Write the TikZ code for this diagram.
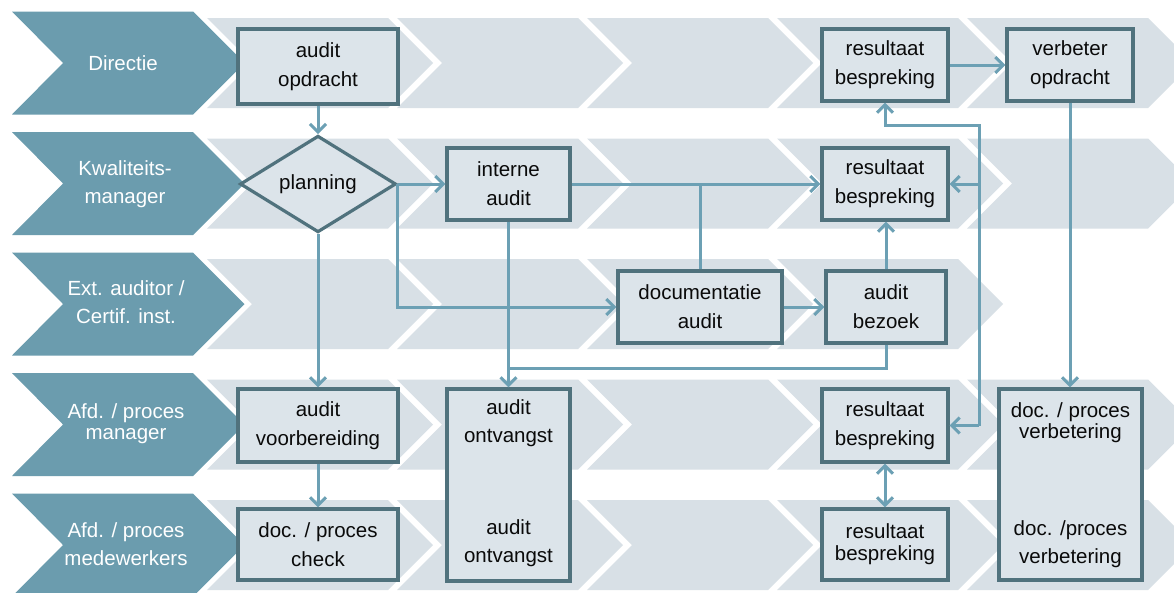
\documentclass[tikz,border=0pt]{standalone}
\usepackage{fontspec}
\setmainfont{Liberation Sans}
\usetikzlibrary{shapes.geometric,arrows.meta}
\definecolor{darkc}{RGB}{107,156,174}
\definecolor{lightc}{RGB}{216,224,230}
\definecolor{boxf}{RGB}{220,228,234}
\definecolor{boxd}{RGB}{80,114,125}
\definecolor{arrc}{RGB}{108,160,180}
\definecolor{txtc}{RGB}{10,10,10}
\begin{document}
\begin{tikzpicture}[x=1pt,y=-1pt,
  bx/.style 2 args={draw=boxd, line width=3.2pt, fill=boxf, minimum width=#1, minimum height=#2, inner sep=0pt, align=center, font=\fontsize{20.5}{29}\selectfont, text=txtc},
  lbl/.style={text=white, align=center, font=\fontsize{20.5}{28}\selectfont},
  txt/.style={align=center, font=\fontsize{20.5}{28}\selectfont, text=txtc},
  con/.style={draw=arrc, line width=3pt},
  arr/.style={con, -{Straight Barb[length=8pt,width=16pt]}},
  darr/.style={con, {Straight Barb[length=8pt,width=16pt]}-{Straight Barb[length=8pt,width=16pt]}},
]
\useasboundingbox (0,0) rectangle (1174,592);
\clip (0,0) rectangle (1174,592);
\fill[white] (0,0) rectangle (1174,592);
% lanes
\foreach \c/\n in {63/4,183.5/4,304/3,424.5/4,545/4} {
  \foreach \k in {0,...,\n} {
    \pgfmathsetmacro\L{207+190*\k}
    \fill[lightc] (\L,\c-45) -- (\L+181,\c-45) -- (\L+226,\c) -- (\L+181,\c+45) -- (\L,\c+45) -- (\L+45,\c) -- cycle;
  }
  \fill[darkc] (12,\c-51.5) -- (193,\c-51.5) -- (244.5,\c) -- (193,\c+51.5) -- (12,\c+51.5) -- (63,\c) -- cycle;
}
% lane labels
\node[lbl] (l1) at (123,63) {Directie};
\node[lbl] (l2) at (125,184) {Kwaliteits-\\manager};
\node[lbl] (l3) at (126,302.5) {Ext. auditor /\\Certif. inst.};
\node[lbl, font=\fontsize{20.5}{21}\selectfont] (l4) at (126,424) {Afd. / proces\\manager};
\node[lbl] (l5) at (126,544) {Afd. / proces\\medewerkers};
% boxes
\node[bx={160pt}{75pt}] (ao) at (318,66.5) {audit\\opdracht};
\node[bx={126pt}{72pt}] (res1) at (885,65) {resultaat\\bespreking};
\node[bx={126pt}{72pt}] (vo) at (1070,65) {verbeter\\opdracht};
\node[draw=boxd, line width=3.2pt, fill=boxf, diamond, minimum width=156pt, minimum height=90pt, inner sep=0pt, txt] (plan) at (318,184) {planning};
\node[bx={123pt}{72pt}] (ia) at (508.5,184) {interne\\audit};
\node[bx={126pt}{72pt}] (res2) at (885,184) {resultaat\\bespreking};
\node[bx={164pt}{72pt}] (doc) at (700,307) {documentatie\\audit};
\node[bx={120pt}{72pt}] (bez) at (886,307) {audit\\bezoek};
\node[bx={160pt}{73pt}] (avb) at (318,425.5) {audit\\voorbereiding};
\node[bx={123pt}{192pt}] (aon) at (508.5,485) {};
\node[txt] (aon1) at (508.5,423) {audit\\ontvangst};
\node[txt] (aon2) at (508.5,543) {audit\\ontvangst};
\node[bx={126pt}{73pt}] (res4) at (885,425.5) {resultaat\\bespreking};
\node[bx={143pt}{191pt}] (dv) at (1070.5,484.5) {};
\node[txt, font=\fontsize{20.5}{21}\selectfont] (dv1) at (1070.5,423) {doc. / proces\\verbetering};
\node[txt] (dv2) at (1070.5,544) {doc. /proces\\verbetering};
\node[bx={160pt}{71pt}] (chk) at (318,544.5) {doc. / proces\\check};
\node[bx={126pt}{71pt}, font=\fontsize{20.5}{22}\selectfont] (res5) at (885,544.5) {resultaat\\bespreking};
% connectors
\draw[arr] (ao.south) -- (plan.north);
\draw[arr] (plan.east) -- (ia.west);
\draw[arr] (plan.east) |- (doc.west);
\draw[arr] (plan.south) -- (avb.north);
\draw[arr] (avb.south) -- (chk.north);
\draw[arr] (ia.south) -- (aon.north);
\draw[arr] (ia.east) -- (res2.west);
\draw[con] (doc.north) -- (doc.north |- ia.east);
\draw[arr] (doc.east) -- (bez.west);
\draw[arr] (bez.north) -- (bez.north |- res2.south);
\path (ia.south) ++(0,147) coordinate (j1);
\draw[con] (bez.south) |- (j1);
\coordinate (bt) at (979,125);
\draw[arr] (res4.east -| bt) -- (bt) -| (res1.south);
\draw[arr] (res2.east -| bt) -- (res2.east);
\draw[arr] (res4.east -| bt) -- (res4.east);
\draw[darr] (res4.south) -- (res5.north);
\draw[arr] (res1.east) -- (vo.west);
\draw[arr] (vo.south) -- (vo.south |- dv.north);
\end{tikzpicture}
\end{document}
